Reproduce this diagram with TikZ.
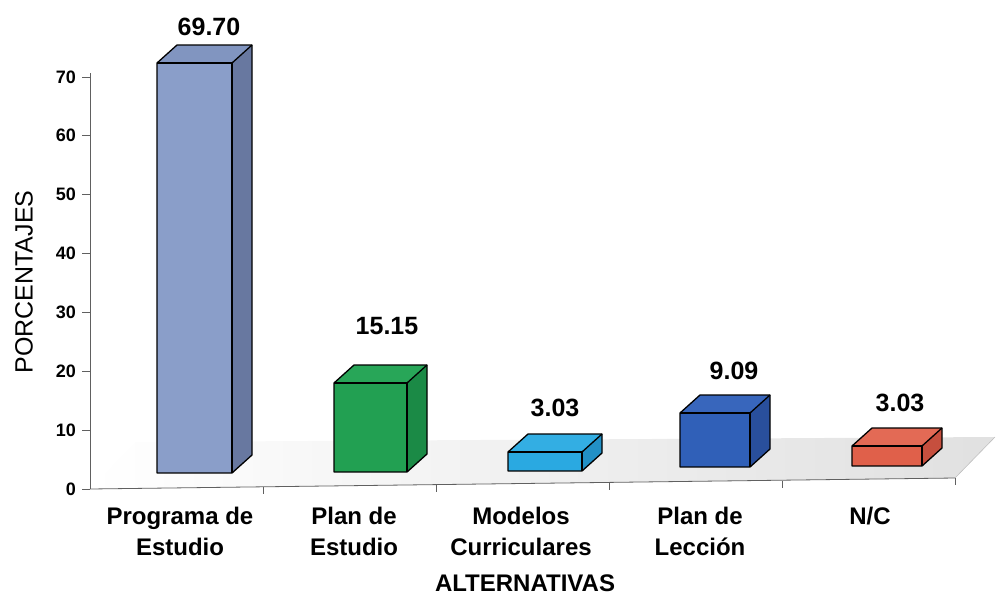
\documentclass[tikz,border=0pt]{standalone}
\usepackage{fontspec}
\setmainfont{Liberation Sans}
\definecolor{bAf}{HTML}{8A9EC9}\definecolor{bAs}{HTML}{6878A0}\definecolor{bAt}{HTML}{8195C0}
\definecolor{bBf}{HTML}{22A052}\definecolor{bBs}{HTML}{1B8A46}\definecolor{bBt}{HTML}{28A658}
\definecolor{bCf}{HTML}{2AA9E1}\definecolor{bCs}{HTML}{2290C6}\definecolor{bCt}{HTML}{33AEE3}
\definecolor{bDf}{HTML}{3060B8}\definecolor{bDs}{HTML}{294F9C}\definecolor{bDt}{HTML}{3866BC}
\definecolor{bEf}{HTML}{E0604A}\definecolor{bEs}{HTML}{C64F3E}\definecolor{bEt}{HTML}{E36A55}
\definecolor{axisgray}{HTML}{606060}
\tikzset{
  edge/.style={draw=black, line width=1.3pt, line join=round},
  axisline/.style={draw=axisgray, line width=0.8pt},
  ticklab/.style={font=\fontsize{18}{20}\selectfont\bfseries, anchor=east, inner sep=0pt},
  vallab/.style={font=\fontsize{25}{28}\selectfont\bfseries, inner sep=0pt},
  catlab/.style={font=\fontsize{24}{31}\selectfont\bfseries, align=center, inner sep=0pt, anchor=north},
  titlelab/.style={font=\fontsize{24}{28}\selectfont, inner sep=0pt}
}
\newcommand{\mybar}[7]{%
  \fill[#5] (#1,#3) rectangle (#2,#4);
  \fill[#6] (#2,#3) -- (#2+20,#3-18) -- (#2+20,#4-18) -- (#2,#4) -- cycle;
  \fill[#7] (#1,#4) -- (#1+20,#4-18) -- (#2+20,#4-18) -- (#2,#4) -- cycle;
  \draw[edge] (#1,#3) -- (#2,#3) -- (#2+20,#3-18) -- (#2+20,#4-18) -- (#1+20,#4-18) -- (#1,#4) -- cycle;
  \draw[edge] (#1,#4) -- (#2,#4) -- (#2,#3);
  \draw[edge] (#2,#4) -- (#2+20,#4-18);
}
\begin{document}
\begin{tikzpicture}[x=1pt,y=-1pt]
\useasboundingbox (0,0) rectangle (1000,597);
% floor
\shade[left color=white, right color=black!12] (90,489) -- (955,478) -- (995,437) -- (135,442) -- cycle;
\draw[black!25, line width=0.6pt] (955,478) -- (995,437);
% y axis
\draw[axisline] (90,73) -- (90,489);
\foreach \v/\y in {0/489,10/430,20/371,30/312,40/253,50/194,60/135,70/77}{
  \draw[axisline] (82,\y) -- (90,\y);
  \node[ticklab] (t\v) at (76,\y) {\v};
}
% x axis
\draw[axisline] (90,489) -- (955,478);
\foreach \x/\y in {263/487,436/485,609/483,782/481,955/478}{
  \draw[axisline] (\x,\y) -- (\x,\y+7);
}
% bars
\mybar{157}{232}{473}{63}{bAf}{bAs}{bAt}
\mybar{334}{407}{472}{383}{bBf}{bBs}{bBt}
\mybar{508}{582}{471}{452}{bCf}{bCs}{bCt}
\mybar{680}{750}{467}{413}{bDf}{bDs}{bDt}
\mybar{852}{922}{466}{446}{bEf}{bEs}{bEt}
% value labels
\node[vallab] (v1) at (209,27) {69.70};
\node[vallab] (v2) at (387,326) {15.15};
\node[vallab] (v3) at (555,408) {3.03};
\node[vallab] (v4) at (734,371) {9.09};
\node[vallab] (v5) at (900,403) {3.03};
% category labels
\node[catlab] (c1) at (180,507) {Programa de\\Estudio};
\node[catlab] (c2) at (354,507) {Plan de\\Estudio};
\node[catlab] (c3) at (521,507) {Modelos\\Curriculares};
\node[catlab] (c4) at (700,507) {Plan de\\Lección};
\node[catlab] (c5) at (870,507) {N/C};
% axis titles
\node[titlelab, font=\fontsize{24}{28}\selectfont\bfseries, anchor=base] (xt) at (525,591) {ALTERNATIVAS};
\node[titlelab, rotate=90, font=\fontsize{25}{28}\selectfont] (yt) at (24,282) {PORCENTAJES};
\end{tikzpicture}
\end{document}
